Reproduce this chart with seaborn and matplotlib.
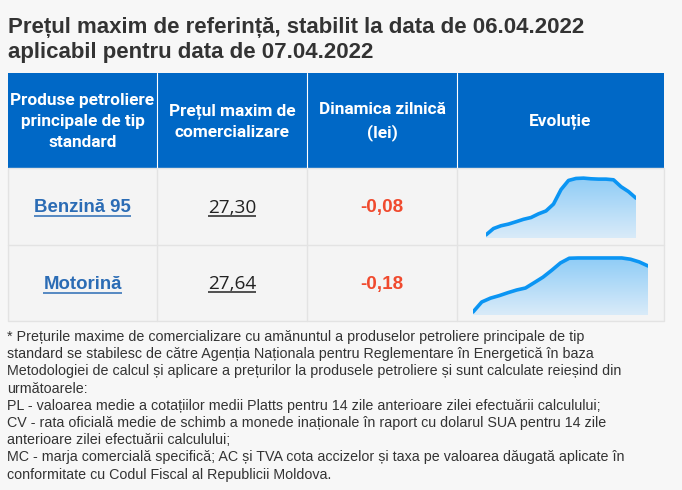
import numpy as np
import matplotlib
matplotlib.use("Agg")
import matplotlib.pyplot as plt
import seaborn as sns
from matplotlib.patches import Rectangle
from matplotlib.colors import LinearSegmentedColormap

# ---- data ----
title_lines = ["Prețul maxim de referință, stabilit la data de 06.04.2022",
               "aplicabil pentru data de 07.04.2022"]
header_labels = ["Produse petroliere\nprincipale de tip\nstandard",
                 "Prețul maxim de\ncomercializare",
                 "Dinamica zilnică\n(lei)",
                 "Evoluție"]
products = ["Benzină 95", "Motorină"]
prices = ["27,30", "27,64"]
changes = ["-0,08", "-0,18"]

# approximate price history behind the sparklines (lei)
benzina_trend = [24.00, 24.57, 24.82, 24.97, 25.18, 25.40, 25.56, 25.89, 26.15, 26.77, 28.07,
                 28.89, 29.07, 29.10, 29.04, 29.01, 29.01, 28.95, 28.33, 27.89, 27.30]
motorina_trend = [22.50, 23.62, 24.05, 24.33, 24.66, 24.96, 25.18, 25.78, 26.39, 27.16, 27.98,
                  28.50, 28.53, 28.53, 28.53, 28.53, 28.53, 28.53, 28.39, 28.09, 27.64]

footnote_lines = [
    "* Prețurile maxime de comercializare cu amănuntul a produselor petroliere principale de tip",
    "standard se stabilesc de către Agenția Naționala pentru Reglementare în Energetică în baza",
    "Metodologiei de calcul și aplicare a prețurilor la produsele petroliere și sunt calculate reieșind din",
    "următoarele:",
    "PL - valoarea medie a cotațiilor medii Platts pentru 14 zile anterioare zilei efectuării calculului;",
    "CV - rata oficială medie de schimb a monede inaționale în raport cu dolarul SUA pentru 14 zile",
    "anterioare zilei efectuării calculului;",
    "MC - marja comercială specifică; AC și TVA cota accizelor și taxa pe valoarea dăugată aplicate în",
    "conformitate cu Codul Fiscal al Republicii Moldova.",
]

W, H = 682, 490
BG = "#f7f7f7"
CELL = "#f4f4f4"
GRID = "#e3e3e3"
BLUE = "#0068c6"

sns.set_theme(style="white")
plt.rcParams['font.family'] = ['Liberation Sans', 'DejaVu Sans']


def pt(v):
    # pixel size -> points at dpi 100
    return v * 72 / 100


fig = plt.figure(figsize=(W / 100, H / 100), dpi=100, facecolor=BG)
ax = fig.add_axes([0, 0, 1, 1])
ax.set_xlim(0, W)
ax.set_ylim(H, 0)
ax.axis('off')
ax.set_facecolor(BG)

# title
for i, line in enumerate(title_lines):
    ax.text(8, 27 + i * 25.5, line, fontsize=pt(22.3), fontweight='bold', color='#333333',
            va='center', ha='left')

# table geometry
col_x = [8, 157, 307, 457, 664]
head_top, head_bot = 73, 168
row_y = [168, 245, 321]

# header
ax.add_patch(Rectangle((col_x[0], head_top), col_x[-1] - col_x[0], head_bot - head_top,
                       facecolor=BLUE, edgecolor='none'))
for xb in col_x[1:-1]:
    ax.plot([xb, xb], [head_top, head_bot], color='white', lw=0.8)
for i, lab in enumerate(header_labels):
    cx = (col_x[i] + col_x[i + 1]) / 2
    ax.text(cx, (head_top + head_bot) / 2 + 1, lab, fontsize=pt(17.2), fontweight='bold',
            color='white', ha='center', va='center', linespacing=1.5,
            family=['Roboto', 'DejaVu Sans'])

# body cells
ax.add_patch(Rectangle((col_x[0], row_y[0]), col_x[-1] - col_x[0], row_y[-1] - row_y[0],
                       facecolor=CELL, edgecolor=GRID, lw=1))
for xb in col_x[1:-1]:
    ax.plot([xb, xb], [row_y[0], row_y[-1]], color=GRID, lw=1)
ax.plot([col_x[0], col_x[-1]], [row_y[1], row_y[1]], color=GRID, lw=1)

renderer = fig.canvas.get_renderer()


def underline(t, color, off=2):
    bb = t.get_window_extent(renderer)
    y = H - bb.y0 + off
    ax.plot([bb.x0, bb.x1], [y, y], color=color, lw=1.1, solid_capstyle='butt')


for r in range(2):
    cy = (row_y[r] + row_y[r + 1]) / 2 + 1
    t = ax.text((col_x[0] + col_x[1]) / 2, cy, products[r], fontsize=pt(18.6), fontweight='bold',
                color='#2b6cb5', ha='center', va='center')
    underline(t, '#2b6cb5', 0)
    t = ax.text((col_x[1] + col_x[2]) / 2, cy, prices[r], fontsize=pt(19), color='#222222',
                ha='center', va='center', family=['Open Sans', 'DejaVu Sans'])
    underline(t, '#222222', -1)
    ax.text((col_x[2] + col_x[3]) / 2, cy, changes[r], fontsize=pt(18.9), fontweight='bold',
            color='#f04a2e', ha='center', va='center')

# sparklines
grad = LinearSegmentedColormap.from_list('g', ['#d9ebf9', '#8ccbf6'])
spark_boxes = [(486, 175, 636, 238), (473, 255, 648, 315)]
for trend, (x0, y0, x1, y1) in zip([benzina_trend, motorina_trend], spark_boxes):
    sax = fig.add_axes([x0 / W, 1 - y1 / H, (x1 - x0) / W, (y1 - y0) / H])
    idx = np.arange(len(trend))
    vals = np.array(trend)
    sns.lineplot(x=idx, y=vals, ax=sax, color='#0b95f3', linewidth=2.6, zorder=3)
    sax.margins(x=0, y=0.055)
    lo, hi = sax.get_ylim()
    poly = sax.fill_between(idx, vals, lo, color='none', zorder=1)
    img = sax.imshow(np.linspace(0, 1, 100).reshape(-1, 1), cmap=grad, aspect='auto',
                     origin='lower', extent=[idx[0], idx[-1], lo, hi], zorder=1)
    img.set_clip_path(poly.get_paths()[0], transform=sax.transData)
    sax.set_xlim(idx[0], idx[-1])
    sax.set_ylim(lo, hi)
    sax.axis('off')

# footnote
for i, line in enumerate(footnote_lines):
    ax.text(7, 337 + i * 17.2, line, fontsize=pt(14.2), color='#333333', ha='left', va='center')

fig.savefig("out.png", dpi=100, facecolor=BG)
